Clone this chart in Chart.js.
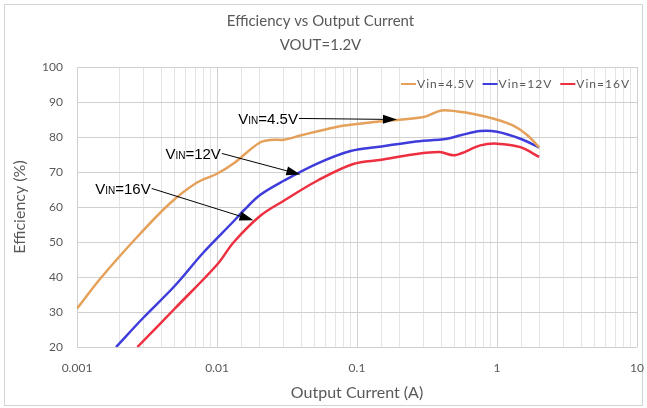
<!DOCTYPE html>
<html>
<head>
<meta charset="utf-8">
<script src="https://cdn.jsdelivr.net/npm/chart.js@4/dist/chart.umd.min.js"></script>
<style>
  html, body { margin: 0; padding: 0; background: #fff; }
  #wrap { width: 647px; height: 408px; }
</style>
</head>
<body>
<div id="wrap"><canvas id="effChart"></canvas></div>
<script>
// Efficiency vs Output Current, VOUT=1.2V

// Output current (A) and efficiency (%) per input voltage
const vin45Current = [0.001, 0.0015, 0.0027, 0.0046, 0.0072, 0.01, 0.0135, 0.02, 0.025, 0.03, 0.04, 0.07, 0.1, 0.15, 0.3, 0.4, 0.52, 0.68, 0.95, 1.3, 1.65, 2.0];
const vin45Eff     = [31, 40, 51.5, 61, 67, 69.5, 72.8, 78.3, 79.2, 79.2, 80.5, 82.8, 83.7, 84.5, 85.7, 87.6, 87.3, 86.6, 85.2, 83.3, 80.5, 77];

const vin12Current = [0.0019, 0.003, 0.005, 0.008, 0.0132, 0.0155, 0.0204, 0.03, 0.052, 0.09, 0.15, 0.25, 0.44, 0.55, 0.76, 1.0, 1.47, 2.0];
const vin12Eff     = [20, 28.5, 37.5, 47, 56, 59, 63.5, 67.5, 72.4, 76, 77.3, 78.6, 79.5, 80.5, 81.7, 81.5, 79.5, 77];

const vin16Current = [0.0027, 0.005, 0.01, 0.0132, 0.0204, 0.03, 0.052, 0.094, 0.15, 0.25, 0.39, 0.5, 0.76, 1.0, 1.47, 2.0];
const vin16Eff     = [20, 31, 43.5, 50, 57.5, 61.8, 67.5, 72.3, 73.5, 75, 75.7, 74.8, 77.6, 78.1, 77.1, 74.3];

const seriesLabels = ['Vin=4.5V', 'Vin=12V', 'Vin=16V'];
const decadeLabels = ['0.001', '0.01', '0.1', '1', '10'];

// Callout labels: text after "VIN", label anchor and arrow tip in data units
const calloutText = ['=4.5V', '=12V', '=16V'];
const calloutLabelAt = [[0.0142, 85.3], [0.00428, 75.3], [0.00135, 65.3]];
const calloutTipAt = [[0.193, 85.0], [0.0394, 69.3], [0.0182, 56.2]];

const TEXT_GRAY = '#595959';
const FONT = 'Lato, "Open Sans", sans-serif';

function toPoints(xs, ys) {
    return xs.map((v, i) => ({ x: v, y: ys[i] }));
}

function isDecade(v) {
    const l = Math.log10(v);
    return Math.abs(l - Math.round(l)) < 1e-6;
}

// white background + thin chart border like the Excel frame
const framePlugin = {
    id: 'frame',
    beforeDraw(chart) {
        const ctx = chart.ctx;
        ctx.save();
        ctx.fillStyle = '#fff';
        ctx.fillRect(0, 0, chart.width, chart.height);
        ctx.strokeStyle = '#d4d4d4';
        ctx.lineWidth = 1;
        ctx.strokeRect(4.5, 4.5, chart.width - 9, chart.height - 7);
        ctx.restore();
    }
};

// legend drawn inside the plot, top right
const innerLegend = {
    id: 'innerLegend',
    afterDraw(chart) {
        const ctx = chart.ctx;
        const area = chart.chartArea;
        ctx.save();
        ctx.font = '12px ' + FONT;
        ctx.letterSpacing = '1px';
        ctx.textBaseline = 'middle';
        const y = area.top + 17;
        let xr = area.right - 7;
        const items = chart.data.datasets.slice().reverse();
        items.forEach(ds => {
            const w = ctx.measureText(ds.label).width;
            const tx = xr - w;
            ctx.fillStyle = TEXT_GRAY;
            ctx.fillText(ds.label, tx, y);
            ctx.strokeStyle = ds.borderColor;
            ctx.lineWidth = 2;
            ctx.beginPath();
            ctx.moveTo(tx - 16, y);
            ctx.lineTo(tx - 1, y);
            ctx.stroke();
            xr = tx - 16 - 8;
        });
        ctx.restore();
    }
};

// "VIN=..." callouts with arrows
const calloutPlugin = {
    id: 'callouts',
    afterDatasetsDraw(chart) {
        const { ctx, scales } = chart;
        ctx.save();
        ctx.fillStyle = '#000';
        ctx.strokeStyle = '#000';
        ctx.textBaseline = 'alphabetic';
        calloutText.forEach((txt, i) => {
            let x = scales.x.getPixelForValue(calloutLabelAt[i][0]);
            const yc = scales.y.getPixelForValue(calloutLabelAt[i][1]);
            const base = yc + 5.5;
            ctx.font = '15px "Liberation Sans", Arial, sans-serif';
            ctx.fillText('V', x, base);
            x += ctx.measureText('V').width;
            ctx.font = '10px "Liberation Sans", Arial, sans-serif';
            ctx.fillText('IN', x, base);
            x += ctx.measureText('IN').width;
            ctx.font = '15px "Liberation Sans", Arial, sans-serif';
            ctx.fillText(txt, x, base);
            x += ctx.measureText(txt).width + 1;

            const tx = scales.x.getPixelForValue(calloutTipAt[i][0]);
            const ty = scales.y.getPixelForValue(calloutTipAt[i][1]);
            const ang = Math.atan2(ty - yc, tx - x);
            const len = 14, half = 4.5;
            const bx = tx - len * Math.cos(ang), by = ty - len * Math.sin(ang);
            ctx.lineWidth = 1;
            ctx.beginPath();
            ctx.moveTo(x, yc);
            ctx.lineTo(bx, by);
            ctx.stroke();
            ctx.beginPath();
            ctx.moveTo(tx, ty);
            ctx.lineTo(bx + half * Math.sin(ang), by - half * Math.cos(ang));
            ctx.lineTo(bx - half * Math.sin(ang), by + half * Math.cos(ang));
            ctx.closePath();
            ctx.fill();
        });
        ctx.restore();
    }
};

const lineStyle = {
    borderWidth: 2.5,
    pointRadius: 0,
    tension: 0.35,
    fill: false
};

const ctx = document.getElementById('effChart').getContext('2d');
const effChart = new Chart(ctx, {
    type: 'line',
    data: {
        datasets: [
            Object.assign({ label: seriesLabels[0], data: toPoints(vin45Current, vin45Eff), borderColor: '#E5A15A' }, lineStyle),
            Object.assign({ label: seriesLabels[1], data: toPoints(vin12Current, vin12Eff), borderColor: '#3F3CDC' }, lineStyle),
            Object.assign({ label: seriesLabels[2], data: toPoints(vin16Current, vin16Eff), borderColor: '#EE2F40' }, lineStyle)
        ]
    },
    options: {
        responsive: true,
        maintainAspectRatio: false,
        animation: false,
        layout: { padding: { left: 4, right: 10, top: 0, bottom: 6 } },
        plugins: {
            legend: { display: false },
            tooltip: { enabled: false },
            title: {
                display: true,
                text: 'Efficiency vs Output Current',
                color: TEXT_GRAY,
                font: { family: FONT, size: 15, weight: 'normal' },
                padding: { top: 12, bottom: 2 }
            },
            subtitle: {
                display: true,
                text: 'VOUT=1.2V',
                color: TEXT_GRAY,
                font: { family: FONT, size: 15, weight: 'normal' },
                padding: { top: 4, bottom: 13 }
            }
        },
        scales: {
            x: {
                type: 'logarithmic',
                min: 0.001,
                max: 10,
                border: { display: false },
                grid: {
                    drawTicks: false,
                    color: c => isDecade(c.tick.value) ? '#d0d0d0' : '#e4e4e4'
                },
                ticks: {
                    autoSkip: false,
                    maxRotation: 0,
                    padding: 14,
                    color: TEXT_GRAY,
                    font: { family: FONT, size: 12 },
                    callback: function(value) {
                        if (!isDecade(value)) return '';
                        return decadeLabels[Math.round(Math.log10(value)) + 3];
                    }
                },
                title: {
                    display: true,
                    text: 'Output Current (A)',
                    color: TEXT_GRAY,
                    font: { family: FONT, size: 16 },
                    padding: { top: 0, bottom: 0 }
                },
                afterFit: scale => {
                    scale.height = 55;
                    scale.paddingLeft = 0;
                    scale.paddingRight = 0;
                }
            },
            y: {
                min: 20,
                max: 100,
                border: { display: false },
                grid: { drawTicks: false, color: '#d0d0d0' },
                ticks: {
                    stepSize: 10,
                    padding: 14,
                    color: TEXT_GRAY,
                    font: { family: FONT, size: 12 }
                },
                title: {
                    display: true,
                    text: 'Efficiency (%)',
                    color: TEXT_GRAY,
                    font: { family: FONT, size: 16 },
                    padding: { top: 6, bottom: 0 }
                },
                afterFit: scale => { scale.width = 73; }
            }
        }
    },
    plugins: [framePlugin, calloutPlugin, innerLegend]
});
</script>
</body>
</html>
